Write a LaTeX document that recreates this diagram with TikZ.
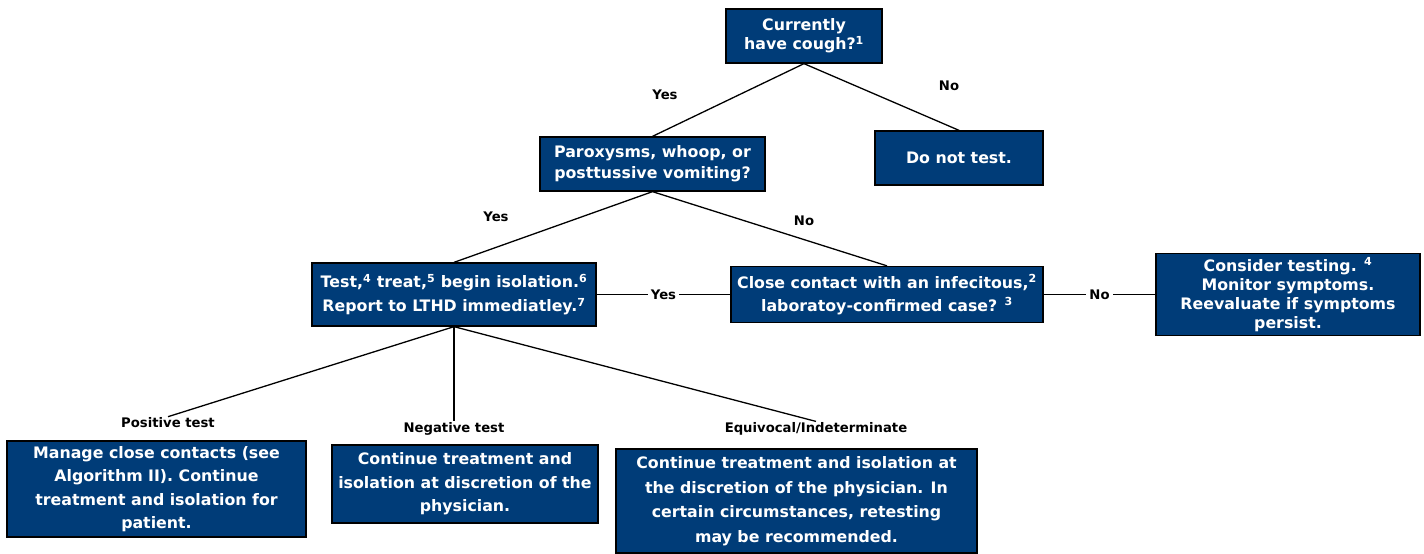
\documentclass[tikz,border=0pt]{standalone}
\usepackage{fontspec}
\setmainfont{DejaVu Sans}
\usetikzlibrary{positioning}
\definecolor{navy}{HTML}{003C78}

\begin{document}
\begin{tikzpicture}[x=1pt, y=-1pt,
  box/.style={draw=black, line width=1.3pt, fill=navy, text=white, align=center,
    font=\bfseries\fontsize{15.8}{19}\selectfont, inner sep=1pt},
  linesep/.style={font=\bfseries\fontsize{15.8}{#1}\selectfont},
  lbl/.style={font=\bfseries\fontsize{13.2}{15}\selectfont, inner sep=1pt},
  link/.style={line width=1.3pt}]

  \useasboundingbox[fill=white] (0,0) rectangle (1424,554);

  % decision boxes
  \node (cough) [box, minimum width=156, minimum height=54] at (804,36) {Currently\\have cough?\textsuperscript{1}};
  \node (notest) [box, minimum width=168, minimum height=54] at (959,158) {Do not test.};
  \node (parox) [box, linesep=21, minimum width=225, minimum height=54] at (652.5,164) {Paroxysms, whoop, or\\posttussive vomiting?};
  \node (isolate) [box, linesep=24, minimum width=284, minimum height=63] at (454,294.5) {Test,\textsuperscript{4} treat,\textsuperscript{5} begin isolation.\textsuperscript{6}\\Report to LTHD immediatley.\textsuperscript{7}};
  \node (contact) [box, linesep=23, minimum width=312, minimum height=56] at (887,294.5) {Close contact with an infecitous,\textsuperscript{2}\\laboratoy-confirmed case? \textsuperscript{3}};
  \node (consider) [box, minimum width=264, minimum height=82] at (1288,294.5) {Consider testing. \textsuperscript{4}\\Monitor symptoms.\\Reevaluate if symptoms\\persist.};

  % outcome boxes
  \node (manage) [box, linesep=23.5, minimum width=299, minimum height=96] at (156.5,489) {Manage close contacts (see\\Algorithm II). Continue\\treatment and isolation for\\patient.};
  \node (discret) [box, linesep=23.5, minimum width=266, minimum height=78] at (465,484) {Continue treatment and\\isolation at discretion of the\\physician.};
  \node (retest) [box, linesep=24.5, minimum width=361, minimum height=104] at (796.5,501) {Continue treatment and isolation at\\the discretion of the physician. In\\certain circumstances, retesting\\may be recommended.};

  % branch labels
  \node (yes1) [lbl] at (665,95) {Yes};
  \node (no1) [lbl] at (949,86) {No};
  \node (yes2) [lbl] at (496,217) {Yes};
  \node (no2) [lbl] at (804,221) {No};
  \node (pos) [lbl] at (168,423) {Positive test};
  \node (neg) [lbl] at (454,429) {Negative test};
  \node (equiv) [lbl] at (816,429) {Equivocal/Indeterminate};

  % connectors
  \draw[link] (cough.south) -- (parox.north);
  \draw[link] (cough.south) -- (notest.north);
  \draw[link] (parox.south) -- (isolate.north);
  \draw[link] (parox.south) -- (contact.north);
  \draw[link] (isolate.east) -- node[lbl, fill=white, inner sep=3pt] (yes3) {Yes} (contact.west);
  \draw[link] (contact.east) -- node[lbl, fill=white, inner sep=3pt] (no3) {No} (consider.west);
  \draw[link] (isolate.south) -- (pos.north);
  \draw[link] (isolate.south) -- (neg.north);
  \draw[link] (isolate.south) -- (equiv.north);

\end{tikzpicture}
\end{document}
